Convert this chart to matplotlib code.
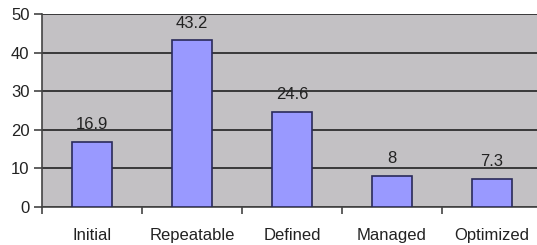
import numpy as np
from matplotlib import pyplot as plt

categories = ['Initial', 'Repeatable', 'Defined', 'Managed', 'Optimized']
values = [16.9, 43.2, 24.6, 8, 7.3]
labels = ['16.9', '43.2', '24.6', '8', '7.3']

plt.rcParams['font.family'] = ['Liberation Sans', 'DejaVu Sans']

fig = plt.figure(figsize=(5.37, 2.45), dpi=100)
ax = fig.add_axes([42/537, 38/245, 500/537, 193/245])
ax.set_facecolor('#C3C1C4')

x = np.arange(len(categories))
ax.bar(x, values, width=0.4, color='#9999FF', edgecolor='#2A2A5A', linewidth=1.2, zorder=3)
for xi, v, lab in zip(x, values, labels):
    ax.annotate(lab, (xi, v), xytext=(0, 7), textcoords='offset points',
                ha='center', va='bottom', fontsize=12, color='#222222', zorder=4)

ax.set_ylim(0, 50)
ax.set_xlim(-0.5, 4.5)
ax.set_yticks(range(0, 51, 10))
ax.yaxis.grid(True, color='#222222', linewidth=1.2, zorder=1)
ax.set_axisbelow(True)

ax.set_xticks(np.arange(-0.5, 4.6, 1))
ax.set_xticklabels([])
ax.set_xticks(x, minor=True)
ax.set_xticklabels(categories, minor=True, fontsize=12, color='#222222')
ax.tick_params(axis='x', which='minor', length=0, pad=15)
ax.tick_params(axis='x', which='major', length=5, width=1.2, color='#444444')
ax.tick_params(axis='y', length=6, width=1.2, color='#444444', labelsize=12,
               labelcolor='#222222', pad=3)

for s in ['top', 'right']:
    ax.spines[s].set_visible(False)
ax.spines['left'].set_color('#444444')
ax.spines['left'].set_linewidth(1.2)
ax.spines['bottom'].set_color('#444444')
ax.spines['bottom'].set_linewidth(1.2)

fig.savefig('out.png', dpi=100)
